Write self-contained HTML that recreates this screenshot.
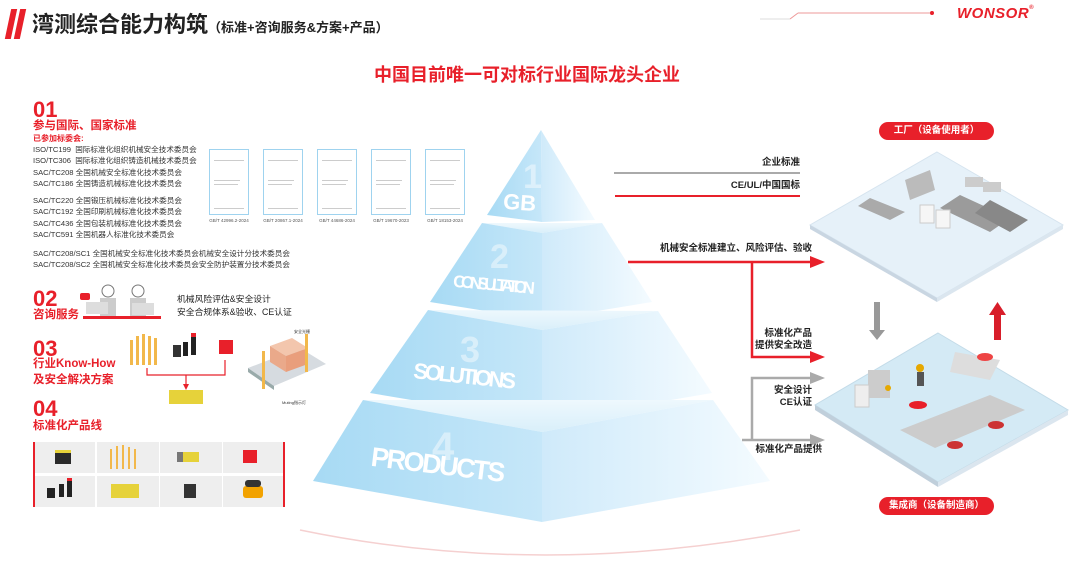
<!DOCTYPE html>
<html><head><meta charset="utf-8"><style>
*{margin:0;padding:0;box-sizing:border-box}
body{width:1080px;height:568px;background:#fff;position:relative;overflow:hidden;font-family:"Liberation Sans","Noto Sans CJK SC",sans-serif;color:#222}
.a{position:absolute;white-space:nowrap}
.std{font-size:7.6px;line-height:11.3px;color:#333}
.num{font-size:22px;font-weight:bold;color:#e8202a;line-height:22px}
.h{font-size:11.5px;font-weight:bold;color:#e8202a}
.doc{position:absolute;width:40px;height:66px;border:1.5px solid #9fd3ef;background:#fff}
.doc i{position:absolute;left:4px;height:1px;background:#ccc}
.cap{position:absolute;font-size:4.5px;color:#555;width:50px;text-align:center}
.cell{position:absolute;width:62px;height:31px;background:#eeeeee}
.lbl{font-size:9.5px;font-weight:bold;color:#222;text-align:right;line-height:12px}
.pill{position:absolute;background:#e8202a;color:#fff;font-size:9.5px;font-weight:bold;text-align:center;border-radius:9px;height:18px;line-height:18px}
</style></head><body>
<div class="a" style="left:8px;top:9px;width:6px;height:30px;background:#e8202a;transform:skewX(-12deg)"></div>
<div class="a" style="left:17px;top:9px;width:6px;height:30px;background:#e8202a;transform:skewX(-12deg)"></div>
<div class="a" style="left:32px;top:7px;font-size:22px;font-weight:bold;color:#222">湾测综合能力构筑<span style="font-size:13px">（标准+咨询服务&amp;方案+产品）</span></div>
<svg class="a" style="left:700px;top:8px" width="240" height="20"><line x1="60" y1="11" x2="90" y2="11" stroke="#ddd"/><line x1="90" y1="11" x2="98" y2="5" stroke="#e99"/><line x1="98" y1="5" x2="230" y2="5" stroke="#e99"/><circle cx="232" cy="5" r="2" fill="#e8202a"/></svg>
<div class="a" style="left:957px;top:5px;font-size:15px;font-weight:bold;color:#e8202a;letter-spacing:0.5px;font-style:italic">WONSOR<span style="font-size:6px;vertical-align:top">®</span></div>
<div class="a" style="left:374px;top:61px;font-size:18px;font-weight:bold;color:#e8202a">中国目前唯一可对标行业国际龙头企业</div>

<div class="a num" style="left:33px;top:99px">01</div>
<div class="a h" style="left:33px;top:117px">参与国际、国家标准</div>
<div class="a" style="left:33px;top:133px;font-size:8px;font-weight:bold;color:#e8202a">已参加标委会:</div>
<div class="a std" style="left:33px;top:144px">ISO/TC199&nbsp; 国际标准化组织机械安全技术委员会<br>ISO/TC306&nbsp; 国际标准化组织铸造机械技术委员会<br>SAC/TC208 全国机械安全标准化技术委员会<br>SAC/TC186 全国铸造机械标准化技术委员会</div>
<div class="a std" style="left:33px;top:195px">SAC/TC220 全国锻压机械标准化技术委员会<br>SAC/TC192 全国印刷机械标准化技术委员会<br>SAC/TC436 全国包装机械标准化技术委员会<br>SAC/TC591 全国机器人标准化技术委员会</div>
<div class="a std" style="left:33px;top:248px">SAC/TC208/SC1 全国机械安全标准化技术委员会机械安全设计分技术委员会<br>SAC/TC208/SC2 全国机械安全标准化技术委员会安全防护装置分技术委员会</div>
<div class="doc" style="left:209px;top:149px"><i style="top:10px;width:30px"></i><i style="top:30px;width:26px"></i><i style="top:34px;width:24px"></i><i style="top:58px;width:30px"></i></div>
<div class="doc" style="left:263px;top:149px"><i style="top:10px;width:30px"></i><i style="top:30px;width:26px"></i><i style="top:34px;width:24px"></i><i style="top:58px;width:30px"></i></div>
<div class="doc" style="left:317px;top:149px"><i style="top:10px;width:30px"></i><i style="top:30px;width:26px"></i><i style="top:34px;width:24px"></i><i style="top:58px;width:30px"></i></div>
<div class="doc" style="left:371px;top:149px"><i style="top:10px;width:30px"></i><i style="top:30px;width:26px"></i><i style="top:34px;width:24px"></i><i style="top:58px;width:30px"></i></div>
<div class="doc" style="left:425px;top:149px"><i style="top:10px;width:30px"></i><i style="top:30px;width:26px"></i><i style="top:34px;width:24px"></i><i style="top:58px;width:30px"></i></div>
<div class="cap" style="left:204px;top:218px">GB/T 42996.2-2024</div>
<div class="cap" style="left:258px;top:218px">GB/T 20867.1-2024</div>
<div class="cap" style="left:312px;top:218px">GB/T 44686-2024</div>
<div class="cap" style="left:366px;top:218px">GB/T 19670-2023</div>
<div class="cap" style="left:420px;top:218px">GB/T 18153-2024</div>

<div class="a num" style="left:33px;top:288px">02</div>
<div class="a h" style="left:33px;top:306px">咨询服务</div>
<svg class="a" style="left:78px;top:283px" width="90" height="40"><rect x="2" y="10" width="10" height="7" rx="2" fill="#e8202a"/><circle cx="30" cy="8" r="6" fill="none" stroke="#777"/><rect x="22" y="15" width="16" height="18" fill="#ccc"/><circle cx="60" cy="8" r="6" fill="none" stroke="#777"/><rect x="52" y="15" width="16" height="18" fill="#ccc"/><rect x="8" y="19" width="22" height="12" fill="#ddd"/><rect x="54" y="20" width="22" height="12" fill="#ddd"/><rect x="5" y="33" width="78" height="3" fill="#e8202a"/></svg>
<div class="a" style="left:177px;top:293px;font-size:8.8px;line-height:13px;color:#222">机械风险评估&amp;安全设计<br>安全合规体系&amp;验收、CE认证</div>

<div class="a num" style="left:33px;top:338px">03</div>
<div class="a h" style="left:33px;top:356px;line-height:16px">行业Know-How<br>及安全解决方案</div>
<svg class="a" style="left:125px;top:330px" width="125" height="75">
<g fill="#f2b84b"><rect x="5" y="10" width="3" height="25"/><rect x="11" y="6" width="3" height="29"/><rect x="17" y="4" width="3" height="31"/><rect x="23" y="6" width="3" height="29"/><rect x="29" y="8" width="3" height="27"/></g>
<rect x="48" y="15" width="8" height="12" fill="#333"/><rect x="58" y="12" width="5" height="14" fill="#222"/><rect x="66" y="5" width="5" height="20" fill="#222"/><rect x="66" y="3" width="5" height="4" fill="#e8202a"/>
<rect x="94" y="10" width="14" height="14" fill="#e8202a"/>
<path d="M22 38 V45 H100 V30" fill="none" stroke="#e8202a" stroke-width="1.2"/><path d="M61 45 V55" stroke="#e8202a" stroke-width="1.2"/><path d="M58 54 L61 60 L64 54Z" fill="#e8202a"/>
<rect x="44" y="60" width="34" height="14" fill="#e6d23a"/></svg>
<svg class="a" style="left:242px;top:326px" width="90" height="80"><polygon points="6,42 58,22 84,38 32,60" fill="#d6dbe0"/><polygon points="6,42 32,60 32,64 6,46" fill="#9aa"/><polygon points="28,20 50,12 66,22 44,30" fill="#f3c6ad"/><polygon points="28,20 44,30 44,46 28,36" fill="#eaa98a"/><polygon points="44,30 66,22 66,38 44,46" fill="#e99e7c"/><rect x="20" y="25" width="3" height="38" fill="#f2b84b"/><rect x="63" y="8" width="3" height="38" fill="#f2b84b"/><text x="52" y="7" font-size="4" fill="#333">安全光栅</text><text x="40" y="78" font-size="4" fill="#333">Muting指示灯</text></svg>

<div class="a num" style="left:33px;top:398px">04</div>
<div class="a h" style="left:33px;top:417px">标准化产品线</div>
<div class="cell" style="left:33px;top:442px"></div><div class="cell" style="left:97px;top:442px"></div><div class="cell" style="left:160px;top:442px"></div><div class="cell" style="left:223px;top:442px"></div>
<div class="cell" style="left:33px;top:476px"></div><div class="cell" style="left:97px;top:476px"></div><div class="cell" style="left:160px;top:476px"></div><div class="cell" style="left:223px;top:476px"></div>
<div class="a" style="left:33px;top:442px;width:2px;height:65px;background:#e8202a"></div>
<div class="a" style="left:283px;top:442px;width:2px;height:65px;background:#e8202a"></div>
<svg class="a" style="left:33px;top:442px" width="252" height="66">
<rect x="22" y="8" width="16" height="14" fill="#2a2a2a"/><rect x="22" y="8" width="16" height="3" fill="#e6d23a"/>
<g fill="#f2b84b"><rect x="77" y="7" width="2" height="20"/><rect x="83" y="4" width="2" height="23"/><rect x="89" y="3" width="2" height="24"/><rect x="95" y="5" width="2" height="22"/><rect x="101" y="7" width="2" height="20"/></g>
<rect x="148" y="10" width="18" height="10" fill="#e6d23a"/><rect x="144" y="10" width="6" height="10" fill="#777"/>
<rect x="210" y="8" width="14" height="13" fill="#e8202a"/>
<rect x="14" y="46" width="8" height="10" fill="#222"/><rect x="26" y="42" width="5" height="13" fill="#222"/><rect x="34" y="38" width="5" height="17" fill="#222"/><rect x="34" y="36" width="5" height="3" fill="#e8202a"/>
<rect x="78" y="42" width="28" height="14" fill="#e6d23a"/>
<rect x="151" y="42" width="12" height="14" fill="#333"/>
<rect x="210" y="44" width="20" height="12" rx="3" fill="#f2a200"/><rect x="212" y="38" width="16" height="7" rx="3" fill="#333"/>
</svg>

<svg class="a" style="left:0;top:0" width="1080" height="568">
<defs>
<linearGradient id="lf" x1="0" y1="0" x2="1" y2="0"><stop offset="0" stop-color="#a7daf4"/><stop offset="1" stop-color="#c6e7f9"/></linearGradient>
<linearGradient id="rf" x1="0" y1="0" x2="1" y2="0"><stop offset="0" stop-color="#cfeafa"/><stop offset="1" stop-color="#f4fbff"/></linearGradient>
<linearGradient id="tp" x1="0" y1="0" x2="0" y2="1"><stop offset="0" stop-color="#eef8fd"/><stop offset="1" stop-color="#d9effa"/></linearGradient>
</defs>
<path d="M300 530 Q542 580 800 530" fill="none" stroke="#f5d0d0" stroke-width="1.5"/>
<polygon points="541,130 487,215 542,222" fill="url(#lf)"/>
<polygon points="541,130 542,222 595,220" fill="url(#rf)"/>
<polygon points="482,223 602,223 542,233" fill="url(#tp)"/>
<polygon points="482,223 542,233 542,320 430,302" fill="url(#lf)"/>
<polygon points="542,233 602,223 652,302 542,320" fill="url(#rf)"/>
<polygon points="428,310 658,311 542,330" fill="url(#tp)"/>
<polygon points="428,310 542,330 542,422 370,393" fill="url(#lf)"/>
<polygon points="542,330 658,311 712,393 542,422" fill="url(#rf)"/>
<polygon points="363,400 713,400 542,432" fill="url(#tp)"/>
<polygon points="363,400 542,432 542,522 313,481" fill="url(#lf)"/>
<polygon points="542,432 713,400 770,481 542,522" fill="url(#rf)"/>
<g font-family="Liberation Sans" font-weight="bold" fill="#fff">
<text x="523" y="188" font-size="34" opacity="0.45">1</text>
<text x="503" y="210" font-size="22" transform="rotate(4 520 205)">GB</text>
<text x="490" y="268" font-size="34" opacity="0.45">2</text>
<text x="453" y="290" font-size="17" transform="rotate(5 490 285)" textLength="82">CONSULTATION</text>
<text x="460" y="362" font-size="36" opacity="0.45">3</text>
<text x="413" y="383" font-size="22" transform="rotate(6 460 378)" textLength="103">SOLUTIONS</text>
<text x="432" y="460" font-size="40" opacity="0.45">4</text>
<text x="370" y="473" font-size="27" transform="rotate(7 430 470)" textLength="135">PRODUCTS</text>
</g>
<line x1="614" y1="173" x2="800" y2="173" stroke="#aaa" stroke-width="2"/>
<line x1="615" y1="196" x2="800" y2="196" stroke="#e8202a" stroke-width="2"/>
<path d="M628 262 H812" stroke="#e8202a" stroke-width="2.5" fill="none"/><path d="M810 256 L825 262 L810 268Z" fill="#e8202a"/>
<path d="M752 262 V357 H812" stroke="#e8202a" stroke-width="2.5" fill="none"/><path d="M810 351 L825 357 L810 363Z" fill="#e8202a"/>
<path d="M742 440 H812 M752 440 V378 H812" stroke="#aaa" stroke-width="2.5" fill="none"/>
<path d="M810 372 L825 378 L810 384Z" fill="#aaa"/><path d="M810 434 L825 440 L810 446Z" fill="#aaa"/>
<polygon points="937,152 1063,225 937,298 810,225" fill="#e6f1f9" stroke="#d6e4ef"/>
<polygon points="810,225 937,298 937,302 810,229" fill="#c9d6e2"/><polygon points="937,298 1063,225 1063,229 937,302" fill="#dbe6ef"/>
<polygon points="960,195 1010,218 990,232 940,208" fill="#9b9b9b"/><polygon points="990,200 1028,220 1010,232 975,213" fill="#888"/>
<polygon points="905,180 930,170 935,190 910,200" fill="#bbb"/><rect x="920" y="205" width="14" height="18" fill="#f6f6f6" stroke="#ccc"/><rect x="936" y="210" width="14" height="18" fill="#f6f6f6" stroke="#ccc"/>
<rect x="965" y="177" width="18" height="10" fill="#ccc"/><rect x="983" y="182" width="18" height="10" fill="#ccc"/>
<polygon points="870,198 905,212 890,220 858,206" fill="#aaa"/>
<polygon points="938,333 1068,410 938,482 815,405" fill="#d4eaf5" stroke="#c3dbe8"/>
<polygon points="815,405 938,482 938,487 815,410" fill="#c0cfdb"/><polygon points="938,482 1068,410 1068,415 938,487" fill="#dbe6ef"/>
<rect x="868" y="370" width="22" height="28" fill="#ccc"/><rect x="855" y="385" width="14" height="22" fill="#eee" stroke="#ccc"/>
<circle cx="920" cy="368" r="4" fill="#e6a800"/><rect x="917" y="372" width="7" height="14" fill="#555"/>
<ellipse cx="918" cy="405" rx="9" ry="4" fill="#e8202a"/>
<polygon points="900,430 990,395 1025,410 935,448" fill="#ccc"/><polygon points="955,352 1000,360 990,380 950,372" fill="#ddd"/>
<ellipse cx="955" cy="445" rx="8" ry="4" fill="#c33"/><ellipse cx="996" cy="425" rx="8" ry="4" fill="#c33"/><ellipse cx="985" cy="357" rx="8" ry="4" fill="#e44"/>
<circle cx="888" cy="388" r="3" fill="#e6a800"/>
<path d="M874 302 H880 V330 H885 L877 340 L869 330 H874Z" fill="#999"/>
<path d="M994 340 H1001 V315 H1006 L997.5 302 L989 315 H994Z" fill="#d81e2a"/>
</svg>
<div class="a lbl" style="left:700px;top:157px;width:100px">企业标准</div>
<div class="a lbl" style="left:700px;top:180px;width:100px">CE/UL/中国国标</div>
<div class="a lbl" style="left:640px;top:243px;width:172px">机械安全标准建立、风险评估、验收</div>
<div class="a lbl" style="left:700px;top:328px;width:112px">标准化产品<br>提供安全改造</div>
<div class="a lbl" style="left:700px;top:385px;width:112px">安全设计<br>CE认证</div>
<div class="a lbl" style="left:700px;top:444px;width:122px">标准化产品提供</div>
<div class="pill" style="left:879px;top:122px;width:115px">工厂（设备使用者）</div>
<div class="pill" style="left:879px;top:497px;width:115px">集成商（设备制造商）</div>
</body></html>
